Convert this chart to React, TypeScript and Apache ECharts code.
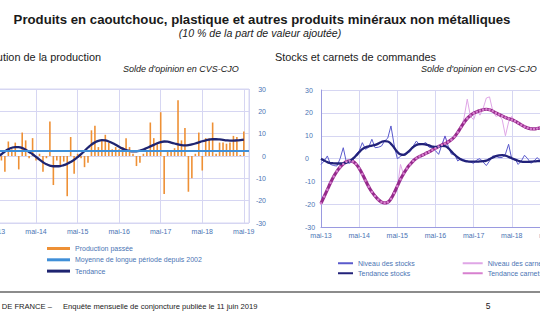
import React, { useEffect, useRef } from 'react';
import * as echarts from 'echarts';

const YEAR_LABELS = ['mai-13', 'mai-14', 'mai-15', 'mai-16', 'mai-17', 'mai-18', 'mai-19'];

// Left chart: monthly, index 0 = mai-13
const PRODUCTION = [
  1, 2, -2, -7, 6.5, 3, 6, -6, 10.5, 7, -1, 8,
  -2, 1, -7, -1, 15.5, -13, -2, -4.5, -2.5, -18, 8.5, -8,
  1, -1, -5, -3, 11.5, 13.5, 4, 7, 9.5, 6, 3, 4,
  3, 4, 8, 4, 1, -4.5, -3, 1, 2, 15, 8, 6,
  19.6, -17, 2, 2, 3.5, 25, 7, 12.5, -16, -10, 1, 10.5,
  -6.5, 8, 8, 15, 1, 6, 6, 5.5, 6, 9, 8.5, 0.5,
  11,
];
const PRODUCTION_TREND = [
  -1, -0.3, 0.8, 2.0, 3.0, 3.7, 4.0, 4.0, 3.6, 2.8, 1.8, 0.8,
  -0.4, -1.6, -2.8, -3.7, -4.3, -4.6, -4.6, -4.5, -4.1, -3.5, -2.7, -1.7,
  -0.5, 0.8, 2.3, 3.8, 5.1, 6.1, 6.8, 7.1, 7.0, 6.5, 5.8, 5.0,
  4.1, 3.3, 2.7, 2.3, 2.1, 2.1, 2.4, 2.9, 3.6, 4.3, 5.0, 5.7,
  6.2, 6.5, 6.4, 6.0, 5.6, 5.2, 4.9, 4.8, 4.9, 5.2, 5.6, 6.1,
  6.6, 7.0, 7.3, 7.5, 7.5, 7.4, 7.2, 7.0, 6.9, 6.9, 7.0, 7.1,
  7.3,
];
const LONG_TERM_MEAN = 2.2;

// Right chart: monthly, index 0 = mai-13
const STOCKS = [
  -2.5, -1, 1.2, -2.5, -3, -3.2, 0, 4.8, -1.7, -2, -1, 2,
  3.4, 7, 4.1, 5, 8.5, 4.8, 5, 5.5, 7.7, 9, 14.3, 6,
  0, 1, 2, 2.6, 3, 5.5, 7.7, 6, 6.5, 7, 5, 4.8,
  3.5, 1.9, 6, 9.9, 5.5, 2, 1.9, -1, 0, -0.5, -1, -1.5,
  -2, -0.5, 0, -1.5, -3, -1, 1.2, 1, 0.5, 0.5, 2, 6.3,
  -0.2, 0, -2.5, -1, 1.5, 0, -2, -1, 0.5, -1, -2, 0,
  -1,
];
const STOCKS_TREND = [
  0, -0.8, -1.5, -1.9, -2.0, -2.1, -2.1, -2.0, -1.7, -1.0, 0, 1.3,
  2.8, 4.2, 5.0, 5.4, 5.7, 6.0, 6.6, 7.3, 7.7, 7.5, 6.5, 4.8,
  3.0, 1.9, 1.7, 2.5, 3.8, 5.1, 6.0, 6.4, 6.4, 6.2, 5.8, 5.3,
  5.1, 5.3, 5.6, 5.5, 4.6, 3.2, 1.8, 0.6, -0.3, -0.9, -1.2, -1.3,
  -1.3, -1.3, -1.2, -1.1, -0.8, -0.2, 0.5, 1.1, 1.5, 1.6, 1.3, 0.8,
  0.2, -0.4, -0.9, -1.3, -1.4, -1.4, -1.3, -1.2, -1.1, -1.0, -0.9, -0.8,
  -0.7,
];
const ORDERS = [
  -20, -17, -13, -11, -7, -6, -3, -2, -1, -1.5, -0.5, -3,
  -4, -7, -9, -13, -14, -15.5, -18, -19, -20, -18.5, -18, -14,
  -13, -2.5, -7, -4, -3, 0, -0.5, 1.5, 1, 3, 2.5, 4.5,
  4, 6, 5.5, 10, 6.5, 8, 9, 12, 13, 18, 26, 18.5,
  17, 21, 19, 22, 26.5, 27, 21, 18.5, 19, 17, 10, 16,
  18.5, 16, 15, 15.5, 13.5, 13, 12.5, 13.5, 13, 14, 13.5, 14.5,
  14,
];
const ORDERS_TREND = [
  -19.5, -16.5, -13.5, -10.5, -7.8, -5.5, -3.7, -2.3, -1.3, -0.9, -1.2, -2.3,
  -4.2, -6.7, -9.5, -12.2, -14.5, -16.3, -17.8, -18.9, -19.3, -19.0, -17.5, -15.0,
  -12.0, -9.0, -6.5, -4.3, -2.5, -1.0, 0.2, 1.0, 1.6, 2.3, 3.0, 3.8,
  4.6, 5.3, 6.0, 6.6, 7.3, 8.3, 9.6, 11.5, 13.7, 15.8, 17.6, 18.9,
  19.9, 20.5, 21.0, 21.4, 21.6, 21.4, 20.8, 20.0, 19.3, 18.7, 18.0, 17.5,
  17.0, 16.4, 15.6, 14.8, 14.0, 13.4, 13.1, 13.0, 13.2, 13.5, 13.8, 14.0,
  14.2,
];

const FONT = '"Liberation Sans", Arial, sans-serif';
const LABEL_COLOR = '#4a74b4';
const GRID_COLOR = '#d6d6f2';
const AXIS_COLOR = '#9a9ae0';

const pairs = (arr: number[]) => arr.map((v, i) => [i, v]);
const yearFormatter = (v: number) => (v % 12 === 0 && YEAR_LABELS[v / 12]) || '';

export default function App() {
  const ref = useRef<HTMLDivElement>(null);

  useEffect(() => {
    if (!ref.current) return;
    const chart = echarts.init(ref.current, null, { renderer: 'svg' });

    const xAxisBase = {
      type: 'value' as const,
      min: 0,
      interval: 12,
      axisTick: { show: false },
      axisLabel: {
        formatter: yearFormatter,
        fontSize: 7,
        color: LABEL_COLOR,
        fontFamily: FONT,
        margin: 5,
        showMaxLabel: false,
        hideOverlap: false,
      },
      splitLine: { show: true, lineStyle: { color: GRID_COLOR, width: 1 } },
    };

    const option: any = {
      animation: false,
      textStyle: { fontFamily: FONT },
      grid: [
        {
          left: -5.5, top: 89, width: 254.5, height: 134,
          show: true, borderColor: GRID_COLOR, borderWidth: 1,
          containLabel: false, outerBoundsMode: 'none',
        },
        {
          left: 321, top: 90, width: 235.3, height: 137.4,
          show: false, containLabel: false, outerBoundsMode: 'none',
        },
      ],
      xAxis: [
        {
          ...xAxisBase,
          gridIndex: 0,
          max: 73.5,
          axisLine: { show: true, lineStyle: { color: GRID_COLOR } },
        },
        {
          ...xAxisBase,
          gridIndex: 1,
          max: 74,
          axisLine: { show: true, onZero: false, lineStyle: { color: AXIS_COLOR } },
          axisLabel: { ...xAxisBase.axisLabel, margin: 5 },
        },
      ],
      yAxis: [
        {
          type: 'value', gridIndex: 0, position: 'right',
          min: -30, max: 30, interval: 10,
          axisLine: { show: false },
          axisTick: { show: false },
          axisLabel: { fontSize: 7, color: LABEL_COLOR, align: 'right', margin: 17, fontFamily: FONT },
          splitLine: { show: true, lineStyle: { color: GRID_COLOR } },
        },
        {
          type: 'value', gridIndex: 1, position: 'left',
          min: -30, max: 30, interval: 10,
          axisLine: { show: true, lineStyle: { color: AXIS_COLOR } },
          axisTick: { show: false },
          axisLabel: { fontSize: 7, color: LABEL_COLOR, align: 'left', margin: 16, fontFamily: FONT },
          splitLine: { show: true, lineStyle: { color: GRID_COLOR } },
        },
      ],
      legend: [
        {
          orient: 'vertical', left: 47, top: 244, itemWidth: 23, itemHeight: 3, itemGap: 2.3,
          icon: 'rect', padding: 0,
          textStyle: { fontSize: 7, color: LABEL_COLOR, lineHeight: 9, fontFamily: FONT },
          data: ['Production passée', 'Moyenne de longue période depuis 2002', 'Tendance'],
          selectedMode: false,
        },
        {
          orient: 'vertical', left: 338, top: 259, itemWidth: 15, itemHeight: 2, itemGap: 1.5,
          icon: 'rect', padding: 0,
          textStyle: { fontSize: 7, color: LABEL_COLOR, lineHeight: 8.5, fontFamily: FONT },
          data: ['Niveau des stocks', 'Tendance stocks'],
          selectedMode: false,
        },
        {
          orient: 'vertical', left: 462.7, top: 259, itemWidth: 20, itemHeight: 2, itemGap: 1.5,
          icon: 'rect', padding: 0,
          textStyle: { fontSize: 7, color: LABEL_COLOR, lineHeight: 8.5, fontFamily: FONT },
          data: ['Niveau des carnets', 'Tendance carnets'],
          selectedMode: false,
        },
      ],
      series: [
        {
          name: 'Production passée', type: 'bar', xAxisIndex: 0, yAxisIndex: 0,
          data: pairs(PRODUCTION), barWidth: 1.6,
          itemStyle: { color: '#ee9035' },
        },
        {
          name: 'Moyenne de longue période depuis 2002', type: 'line', xAxisIndex: 0, yAxisIndex: 0,
          data: [], itemStyle: { color: '#3f8fd8' }, lineStyle: { color: '#3f8fd8' },
          markLine: {
            silent: true, symbol: 'none', label: { show: false },
            lineStyle: { color: '#3f8fd8', width: 2, type: 'solid' },
            data: [{ yAxis: LONG_TERM_MEAN }],
          },
        },
        {
          name: 'Tendance', type: 'line', xAxisIndex: 0, yAxisIndex: 0,
          data: pairs(PRODUCTION_TREND), smooth: true, showSymbol: false,
          itemStyle: { color: '#1e2470' }, lineStyle: { color: '#1e2470', width: 2.3 },
        },
        {
          name: 'Niveau des carnets', type: 'line', xAxisIndex: 1, yAxisIndex: 1,
          data: pairs(ORDERS), showSymbol: false,
          itemStyle: { color: '#dfa6e6' }, lineStyle: { color: '#dfa6e6', width: 1 },
        },
        {
          name: 'Niveau des stocks', type: 'line', xAxisIndex: 1, yAxisIndex: 1,
          data: pairs(STOCKS), showSymbol: false,
          itemStyle: { color: '#5a5acc' }, lineStyle: { color: '#5a5acc', width: 1 },
        },
        {
          name: 'Tendance carnets', type: 'line', xAxisIndex: 1, yAxisIndex: 1,
          data: pairs(ORDERS_TREND), smooth: true, showSymbol: true, symbol: 'circle', symbolSize: 2.5,
          itemStyle: { color: '#d780cf', borderWidth: 0 }, lineStyle: { color: '#962a8c', width: 3.2 },
        },
        {
          name: 'Tendance stocks', type: 'line', xAxisIndex: 1, yAxisIndex: 1,
          data: pairs(STOCKS_TREND), smooth: true, showSymbol: false,
          itemStyle: { color: '#22227a' }, lineStyle: { color: '#22227a', width: 2.3 },
        },
      ],
      graphic: [
        {
          type: 'text', x: 262, y: 19,
          style: {
            text: 'Produits en caoutchouc, plastique et autres produits minéraux non métalliques',
            font: `bold 13.2px ${FONT}`, fill: '#1a1a1a', textAlign: 'center', textVerticalAlign: 'middle',
          },
        },
        {
          type: 'text', x: 260, y: 33,
          style: {
            text: '(10 % de la part de valeur ajoutée)',
            font: `italic 10.6px ${FONT}`, fill: '#222', textAlign: 'center', textVerticalAlign: 'middle',
          },
        },
        {
          type: 'text', x: 101, y: 57,
          style: {
            text: 'Évolution de la production',
            font: `10.9px ${FONT}`, fill: '#222', textAlign: 'right', textVerticalAlign: 'middle',
          },
        },
        {
          type: 'text', x: 123, y: 69,
          style: {
            text: "Solde d'opinion en CVS-CJO",
            font: `italic 9px ${FONT}`, fill: '#222', textAlign: 'left', textVerticalAlign: 'middle',
          },
        },
        {
          type: 'text', x: 275, y: 57,
          style: {
            text: 'Stocks et carnets de commandes',
            font: `10.9px ${FONT}`, fill: '#222', textAlign: 'left', textVerticalAlign: 'middle',
          },
        },
        {
          type: 'text', x: 421, y: 69,
          style: {
            text: "Solde d'opinion en CVS-CJO",
            font: `italic 9px ${FONT}`, fill: '#222', textAlign: 'left', textVerticalAlign: 'middle',
          },
        },
        {
          type: 'line',
          shape: { x1: 0, y1: 292, x2: 540, y2: 292 },
          style: { stroke: '#666', lineWidth: 1.5 },
        },
        {
          type: 'text', x: 52, y: 306,
          style: {
            text: 'BANQUE DE FRANCE –',
            font: `7.6px ${FONT}`, fill: '#222', textAlign: 'right', textVerticalAlign: 'middle',
          },
        },
        {
          type: 'text', x: 63, y: 306,
          style: {
            text: 'Enquête mensuelle de conjoncture publiée le 11 juin 2019',
            font: `7.6px ${FONT}`, fill: '#222', textAlign: 'left', textVerticalAlign: 'middle',
          },
        },
        {
          type: 'text', x: 488, y: 306,
          style: {
            text: '5',
            font: `8.5px ${FONT}`, fill: '#222', textAlign: 'center', textVerticalAlign: 'middle',
          },
        },
      ],
    };

    chart.setOption(option);
    return () => chart.dispose();
  }, []);

  return (
    <div
      ref={ref}
      style={{ position: 'fixed', left: 0, top: 0, width: 540, height: 326, background: '#fff' }}
    />
  );
}
